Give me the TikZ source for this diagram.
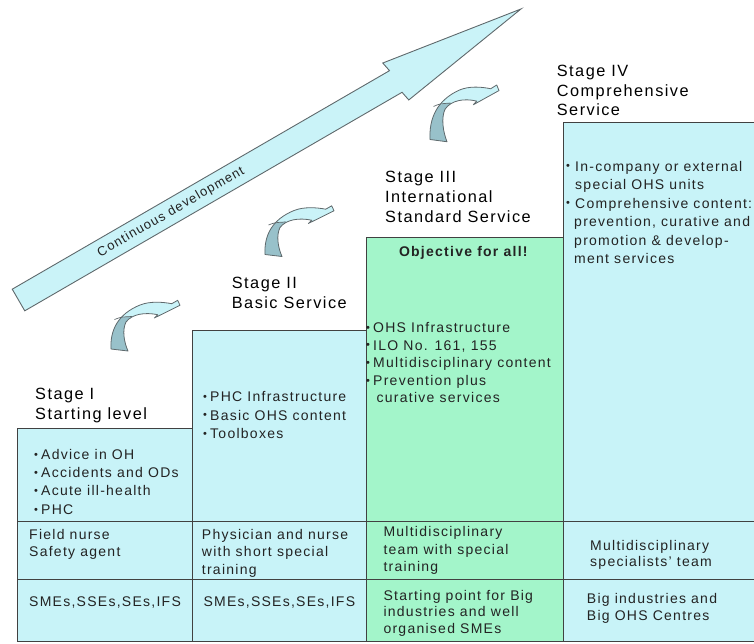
\documentclass[tikz,border=0pt]{standalone}
\usepackage{fontspec}
\setmainfont{Liberation Sans}[LetterSpace=9]

\definecolor{boxcyan}{RGB}{200,243,248}
\definecolor{boxgreen}{RGB}{163,245,202}
\definecolor{arrowcyan}{RGB}{202,243,248}
\definecolor{arrowdark}{RGB}{152,193,202}
\definecolor{arrowline}{RGB}{95,105,108}
\definecolor{rulecol}{RGB}{65,65,65}
\definecolor{ink}{RGB}{35,35,35}

% small bullet in a fixed-width box (width in pt), and a stack of left-aligned lines
\newcommand\bul[1]{\makebox[#1pt][l]{\raisebox{1.2pt}{\fontsize{11}{11}\selectfont\textbullet}}}
\newcommand\linesof[1]{\begin{tabular}[t]{@{}l@{}}#1\end{tabular}}

% outline of one bent "next stage" arrow, tail corner at the origin
\newcommand\turnshape{(0,0) .. controls (-1,-19) and (7,-35) .. (29,-44)
  .. controls (39,-48) and (52,-47) .. (60.7,-45.3) -- (66.7,-48.7) -- (69,-43.7)
  -- (43.3,-31) -- (46.7,-34.3) .. controls (34,-37) and (21,-35) .. (15,-27)
  .. controls (11,-19) and (13,-7) .. (17,2) -- cycle}

\tikzset{
  bodytxt/.style={anchor=base west, inner sep=0pt, text=ink, font=\fontsize{14}{#1}\selectfont},
  bodytxt/.default=18.3,
  stagelbl/.style={anchor=base west, inner sep=0pt, text=black, font=\fontsize{16.3}{#1}\selectfont},
  stagelbl/.default=20.3,
  gridline/.style={draw=rulecol, line width=1pt},
  bigarrow/.style={fill=arrowcyan, draw=arrowline, line width=0.9pt, line join=miter},
  turnarrow/.pic={
    \path[fill=arrowcyan] \turnshape;
    \begin{scope}
      \clip \turnshape;
      \fill[arrowdark] (-10,10) -- (-10,-26) -- (4,-30) -- (20,-33) -- (30,-20) -- (30,10) -- cycle;
    \end{scope}
    \draw[arrowline, line width=0.8pt, line join=round] \turnshape;
    \draw[arrowline, line width=0.7pt] (3.5,-29.5) .. controls (10,-32) .. (21,-32.5);
  }
}

\begin{document}
\begin{tikzpicture}[x=1pt,y=-1pt]
\useasboundingbox (0,0) rectangle (754,643);
\clip (0,0) rectangle (754,643);

% stage columns
\fill[boxcyan]  (17,428) rectangle (192,641);
\fill[boxcyan]  (192,330) rectangle (366,641);
\fill[boxgreen] (366,237) rectangle (563,641);
\fill[boxcyan]  (563,122) rectangle (770,641);

\draw[gridline] (17,641) -- (17,428) -- (192,428);
\draw[gridline] (192,641) -- (192,330) -- (366,330);
\draw[gridline] (366,641) -- (366,237) -- (563,237);
\draw[gridline] (563,641) -- (563,122) -- (770,122);
\draw[gridline] (17,521.5) -- (770,521.5);
\draw[gridline] (17,579.5) -- (770,579.5);
\draw[gridline] (17,641) -- (770,641);

% long development arrow
\begin{scope}[shift={(18.5,300)}, rotate=30.08]
  \draw[bigarrow] (0,-12.5) -- (436,-12.5) -- (434,-22.5) -- (580.7,0)
    -- (438,22.5) -- (436,12.5) -- (0,12.5) -- cycle;
  \node[rotate=30.08, inner sep=0pt, font=\fontsize{13}{15}\selectfont, text=ink]
    (devlabel) at (176,0.5) {Continuous development};
\end{scope}

% bent arrows between the stages
\pic (turn1) at (111,349) {turnarrow};
\pic (turn2) at (265,254.5) {turnarrow};
\pic[yscale=1.12] (turn3) at (430,139.5) {turnarrow};

% stage headings
\node[stagelbl] (stage1) at (35,399.3) {\linesof{Stage I\\Starting level}};
\node[stagelbl] (stage2) at (231.7,288.3) {\linesof{Stage II\\Basic Service}};
\node[stagelbl] (stage3) at (385,182.3) {\linesof{Stage III\\International\\Standard Service}};
\node[stagelbl=19.3] (stage4) at (556.7,76.7) {\linesof{Stage IV\\Comprehensive\\Service}};

% stage I
\node[bodytxt] (s1content) at (34,459.3) {\linesof{\bul{7}Advice in OH\\\bul{7}Accidents and ODs\\\bul{7}Acute ill-health\\\bul{7}PHC}};
\node[bodytxt=17.7] (s1staff) at (29,539) {\linesof{Field nurse\\Safety agent}};
\node[bodytxt] (s1target) at (29,606.7) {SMEs,SSEs,SEs,IFS};

% stage II
\node[bodytxt] (s2content) at (203,401.7) {\linesof{\bul{7}PHC Infrastructure\\\bul{7}Basic OHS content\\\bul{7}Toolboxes}};
\node[bodytxt=17.5] (s2staff) at (201.7,539) {\linesof{Physician and nurse\\with short special\\training}};
\node[bodytxt] (s2target) at (203.3,606.7) {SMEs,SSEs,SEs,IFS};

% stage III
\node[anchor=base, inner sep=0pt, text=ink, font=\fontsize{14}{16}\selectfont\bfseries]
  (goal) at (463.3,256.7) {Objective for all!};
\node[bodytxt=17.6] (s3content) at (366,332.5) {\linesof{\bul{7}OHS Infrastructure\\\bul{7}ILO No. 161, 155\\\bul{7}Multidisciplinary content\\\bul{7}Prevention plus\\\hspace*{10.5pt}curative services}};
\node[bodytxt=17.5] (s3staff) at (383.3,536.7) {\linesof{Multidisciplinary\\team with special\\training}};
\node[bodytxt=16.7] (s3target) at (383.3,600) {\linesof{Starting point for Big\\industries and well\\organised SMEs}};

% stage IV
\node[bodytxt=18.5] (s4content) at (566,171) {\linesof{\bul{9}In-company or external\\\hspace*{9pt}special OHS units\\\bul{9}Comprehensive content:\\\hspace*{8pt}prevention, curative and\\\hspace*{8pt}promotion \& develop-\\\hspace*{8pt}ment services}};
\node[bodytxt=16.7] (s4staff) at (590,550) {\linesof{Multidisciplinary\\specialists' team}};
\node[bodytxt=16.7] (s4target) at (586.7,603.3) {\linesof{Big industries and\\Big OHS Centres}};
\end{tikzpicture}
\end{document}
